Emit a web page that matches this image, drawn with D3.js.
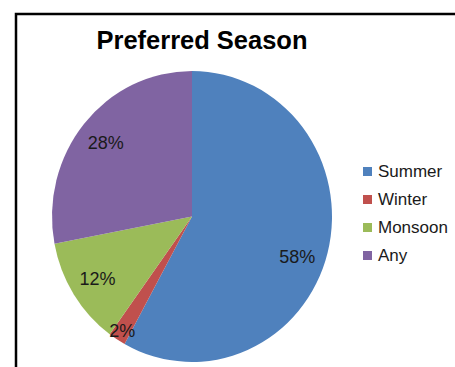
<!DOCTYPE html>
<html>
<head>
<meta charset="utf-8">
<script src="https://cdn.jsdelivr.net/npm/d3@7"></script>
<style>
  html, body { margin: 0; padding: 0; background: #fff; overflow: hidden; }
  text { font-family: "Liberation Sans", Arial, sans-serif; }
</style>
</head>
<body>
<div id="chart"></div>
<script>
const seasons = ["Summer", "Winter", "Monsoon", "Any"]
const shares = [58, 2, 12, 28]
const colors = ["#4F81BD", "#C0504D", "#9BBB59", "#8064A2"]

const w = 455
const h = 367

const svg = d3
  .select("#chart")
  .append("svg")
  .attr("width", w)
  .attr("height", h)

// chart frame (runs off the right and bottom edges)
svg
  .append("rect")
  .attr("x", 16)
  .attr("y", 14)
  .attr("width", 600)
  .attr("height", 600)
  .attr("fill", "none")
  .attr("stroke", "#000")
  .attr("stroke-width", 2.5)

svg
  .append("text")
  .attr("x", 202)
  .attr("y", 49)
  .attr("text-anchor", "middle")
  .attr("font-size", 25)
  .attr("font-weight", "bold")
  .attr("textLength", 211)
  .attr("lengthAdjust", "spacingAndGlyphs")
  .attr("fill", "#000")
  .text("Preferred Season")

// pie is slightly taller than wide in the picture
const cx = 192
const cy = 216.5
const rx = 140
const ry = 145.5

const pie = d3.pie().sort(null).value((d) => d)
const arcs = pie(shares)
const arc = d3.arc().innerRadius(0).outerRadius(rx)

svg
  .append("g")
  .attr("transform", `translate(${cx},${cy}) scale(1,${ry / rx})`)
  .selectAll("path")
  .data(arcs)
  .enter()
  .append("path")
  .attr("d", arc)
  .attr("fill", (d, i) => colors[i])

// labels sit along each slice's middle angle, small slices pushed outward,
// big slice label nudged a little further round like excel's best fit
const labelPos = (d) => {
  let a = (d.startAngle + d.endAngle) / 2
  if (d.value > 50) a += 0.1
  const k = d.value < 5 ? 0.93 : 0.8
  return [cx + rx * k * Math.sin(a), cy - ry * k * Math.cos(a)]
}

svg
  .selectAll(".pct")
  .data(arcs)
  .enter()
  .append("text")
  .attr("class", "pct")
  .attr("x", (d) => labelPos(d)[0])
  .attr("y", (d) => labelPos(d)[1])
  .attr("dy", "0.35em")
  .attr("text-anchor", "middle")
  .attr("font-size", 18)
  .attr("fill", "#1a1a1a")
  .text((d) => `${d.value}%`)

const legend = d3
  .scalePoint()
  .domain(seasons)
  .range([177, 261])

const lg = svg.append("g").attr("id", "legend")

lg.selectAll("rect")
  .data(seasons)
  .enter()
  .append("rect")
  .attr("x", 363)
  .attr("y", (d) => legend(d) - 10)
  .attr("width", 9)
  .attr("height", 9)
  .attr("fill", (d, i) => colors[i])

lg.selectAll("text")
  .data(seasons)
  .enter()
  .append("text")
  .attr("x", 378)
  .attr("y", (d) => legend(d))
  .attr("font-size", 17)
  .attr("fill", "#1a1a1a")
  .text((d) => d)
</script>
</body>
</html>
